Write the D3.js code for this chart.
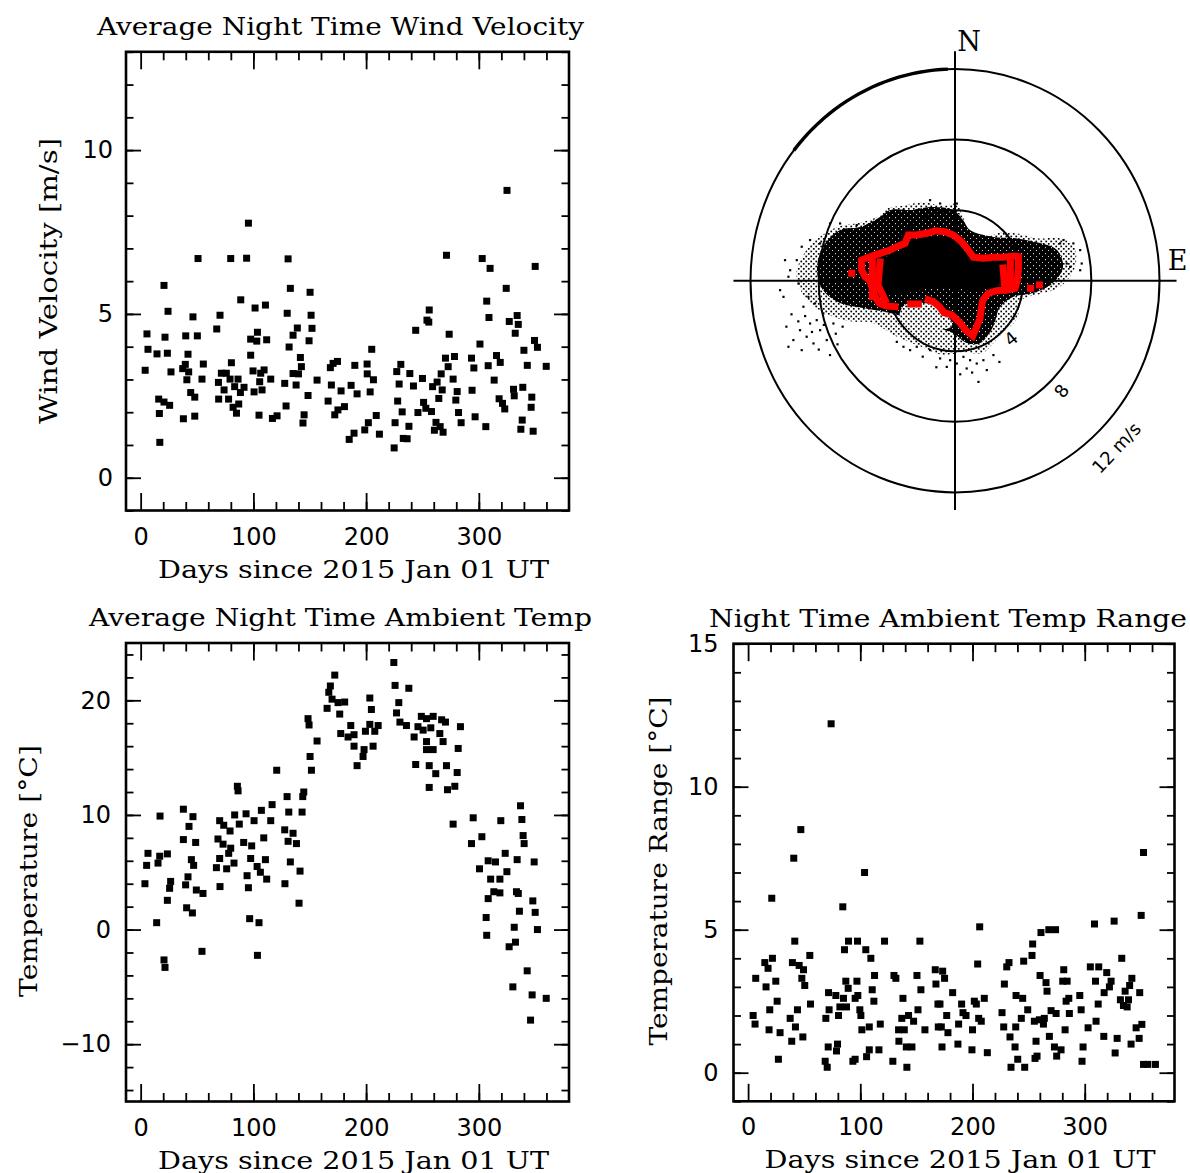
<!DOCTYPE html>
<html lang="en">
<head>
<meta charset="UTF-8">
<title>Night time weather 2015</title>
<style>
  body { margin: 0; background: #fff; }
</style>
</head>
<body>
<script src="https://cdn.jsdelivr.net/npm/d3@7/dist/d3.min.js"></script>
<script>
// ---- data ----
var dayMajor = [0, 100, 200, 300];
var dayMinor = d3.range(20, 380, 20);

// [day, wind speed m/s]
var windPoints = [[4,3.28],[5.6,4.39],[6.5,3.92],[14.5,3.78],[16,2.40],[20.7,2.31],[25.7,2.21],[16.6,1.96],[17,1.08],[20.7,5.87],[21.6,4.29],[23.7,3.80],[24.3,5.08],[26.9,3.23],[37.9,1.80],[37.3,3.33],[39.6,3.46],[42,3.77],[40,4.33],[41,2.99],[42.6,3.23],[44.4,2.60],[46.4,4.91],[48,2.46],[48,1.88],[50.3,4.33],[50.9,6.69],[54.4,3.01],[55.6,3.47],[67.5,4.54],[70.4,4.96],[69.2,2.40],[69,2.91],[71.6,3.19],[74,2.68],[76,3.19],[78,2.40],[79.9,6.69],[80.5,3.51],[79.3,3.01],[82,2.15],[83.4,2.78],[85,1.97],[86.4,3.01],[87,2.25],[88.5,2.60],[88.8,5.43],[91.7,2.76],[94,6.70],[95.6,7.77],[97.6,3.74],[97.6,4.23],[99.7,3.26],[100.6,2.62],[101.5,5.18],[103.6,4.44],[103,4.17],[105,1.91],[105.6,2.93],[106.5,3.19],[107.7,2.68],[109.5,3.29],[110.7,5.27],[111.8,4.21],[115.4,3.01],[116.9,1.81],[121,1.89],[127.8,2.88],[129,2.19],[130,5.02],[130.8,6.68],[131.7,3.99],[132.8,5.78],[135.2,4.35],[135.2,3.18],[137.9,2.83],[139,4.57],[140,3.17],[141.7,3.67],[142.6,3.39],[144,1.67],[145,1.92],[148.5,2.51],[149.4,4.18],[150.3,5.66],[151.2,4.96],[152,4.56],[156.5,2.98],[166.3,2.34],[168.3,3.36],[169.2,2.83],[170.7,3.49],[172.2,1.92],[174.6,3.55],[175,2.07],[177.8,2.65],[180.8,2.17],[185,1.17],[186.7,2.82],[189.3,1.36],[190,3.43],[192,2.56],[198.8,1.46],[200.9,3.47],[201,3.17],[202,1.68],[203.6,2.62],[205,3.92],[206.5,2.99],[209,1.90],[211.8,1.33],[224.9,0.91],[225.7,1.68],[227.2,3.24],[228,2.34],[229.3,2.86],[230.8,3.46],[232,2.01],[233,1.20],[236.4,1.19],[238,1.57],[238.8,3.18],[242,2.80],[244,4.50],[246,1.99],[250,3.03],[251,2.30],[253,2.12],[254,4.81],[256,5.12],[255.6,4.75],[258,2.02],[259,2.78],[260.6,1.45],[262,1.69],[263,2.92],[264.5,2.42],[265.7,1.56],[266.6,3.17],[267.5,2.68],[268.3,1.39],[270.4,3.65],[271.3,6.79],[272.8,3.39],[273.7,4.38],[277.2,3.01],[278.4,3.70],[279.6,2.37],[280.8,2.63],[282,1.99],[284.3,1.68],[293.5,3.65],[294,2.67],[295.6,3.35],[296.7,1.86],[301,4.08],[303,6.69],[306.2,1.56],[307,5.39],[308.3,3.42],[309,4.89],[310,6.39],[313.6,2.98],[315.7,3.73],[318,2.41],[319,3.52],[321,2.27],[323,2.10],[324.3,5.78],[325,8.77],[327,4.77],[330.8,2.70],[331.4,2.50],[332.3,4.41],[334,4.95],[335,4.68],[337.3,1.48],[338.5,1.76],[339,2.76],[340,3.89],[343,3.43],[346.4,2.15],[347,2.46],[348.2,1.42],[349.4,4.19],[350,6.45],[352,3.98],[359.8,3.40]];

// [day, mean ambient temp C]
var tempPoints = [[224.6,23.3],[225.7,21.3],[237.9,21.05],[229,19.8],[227,18.9],[230,18.1],[235.8,17.8],[249,18.6],[253.6,18.4],[259.5,18.6],[267,18.3],[270.4,18.1],[246,17.7],[250.6,17.4],[257.4,17.6],[265.4,17.1],[242.6,16.8],[253.6,16.4],[268.3,16.4],[253.6,15.7],[259.5,15.7],[283.7,17.7],[281.7,15.8],[244,14.4],[256,14.3],[261.8,13.6],[271.3,14.3],[280.8,13.7],[256,12.4],[272.2,12.2],[278.7,12.5],
[172.2,22.2],[168.3,21.25],[166.9,20.7],[169.8,20.1],[175.1,19.8],[181,19.85],[165.4,19.3],[176.6,18.8],[203.3,20.2],[204.7,19.2],[186.4,17.8],[203.3,17.9],[210.7,17.8],[199.4,17.3],[207.7,17.3],[177.5,17.1],[184,16.8],[189.3,17.0],[189.3,16.0],[206.2,16.0],[198.2,15.7],[197.3,15.1],[192,14.3],
[148.5,18.4],[149.4,17.85],[156.5,16.45],[150.3,15.1],[151.5,13.9],[120.7,13.9],[144.7,12.0],[143.8,11.6],[129.9,11.6],[143.2,10.25],[85.8,12.5],[86.4,12.1],[116.6,10.9],[131.4,10.25],[107.1,10.4],[93.5,10.1],[83.4,10.0],[100.6,9.5],[115.4,9.5],[87.5,9.2],[17.2,9.9],[37.9,10.5],[46.4,9.85],[42.9,9.0],[70.1,9.5],[73.7,9.1],[79.3,8.6],[127.8,8.7],[135.2,8.4],[138.2,7.5],[130.8,7.7],[109.2,8.0],[91.4,7.6],[98.5,7.3],[37.9,7.85],[48.8,7.6],[68.6,7.9],[73.1,7.45],[79.9,7.1],[78.1,6.65],[6.5,6.65],[16.9,6.4],[23.7,6.6],[5.3,5.6],[15.4,5.8],[45,6.1],[47,5.6],[70.1,6.2],[82.8,5.8],[76.3,5.3],[67.2,5.4],[97.6,6.2],[110.7,6.1],[103.3,5.5],[106.2,5.0],[94.4,4.7],[111.8,4.4],[132.8,5.9],[141.4,5.1],[3.8,4.0],[26.6,4.2],[25.7,3.6],[42,4.6],[39.9,3.9],[49.4,3.45],[55.3,3.15],[70.4,3.75],[95.6,3.65],[128,4.0],[23.7,2.55],[40.8,1.9],[45.9,1.45],[14.2,0.6],[140.5,2.3],[96.7,0.95],[105,0.6],[54.4,-1.9],[20.7,-2.65],[21.6,-3.3],[103.6,-2.25],
[295,9.75],[319.5,9.5],[337,10.8],[338.2,9.6],[339.3,8.2],[340.2,7.5],[277.2,9.2],[302.7,8.1],[293.5,7.5],[323.4,6.65],[334,6.1],[349.1,5.9],[308.3,6.0],[314.8,5.9],[300.6,5.3],[324.9,5.05],[310.5,4.4],[318.7,4.4],[313.3,3.3],[318.7,3.2],[333.4,3.3],[335,3.15],[308.3,2.7],[347.9,2.5],[336,1.6],[350,1.5],[306.5,1.05],[331.4,0.2],[352,0.0],[307,-0.5],[332.5,-1.1],[326.9,-1.5],[342.9,-3.6],[330.2,-5.0],[347.3,-5.7],[359.8,-6.0],[345.9,-7.9]];

// [day, night temp range C]
var rangePoints = [[74,12.2],[47,8.5],[40.7,7.5],[103.8,7.0],[21.1,6.1],[84.4,5.8],[352.4,7.7],[350.3,5.5],[206.4,5.1],[308.7,5.2],[326.2,5.3],[261,4.9],[268,5.0],[274,5.0],[253.6,4.5],[253,4.1],[245.6,3.9],[333,4.0],[41.6,4.6],[89.5,4.6],[97.5,4.6],[121.6,4.6],[153.1,4.6],[85.9,4.3],[104.9,4.3],[109.4,4.0],[55,4.1],[21.7,4.0],[14.9,3.85],[17.8,3.65],[39.5,3.85],[45.5,3.75],[49.4,3.6],[47.9,3.3],[50.5,3.05],[6.8,3.3],[24.7,3.2],[16,3.0],[204.6,3.8],[230.5,3.7],[232.5,3.85],[281.3,3.6],[305,3.7],[312.5,3.7],[319.6,3.5],[323.5,3.2],[322,3.0],[342,3.3],[340,3.05],[336,2.85],[317.3,2.8],[349,2.8],[260.2,3.4],[265.5,3.15],[266.4,2.85],[284.3,3.2],[280.4,3.2],[309.6,3.2],[295.6,2.7],[283.4,2.5],[285.8,2.6],[312,2.4],[331.8,2.55],[334.5,2.35],[339,2.55],[337.8,2.3],[87.1,3.2],[97,3.2],[89.2,2.95],[112.7,3.4],[130,3.4],[131.7,3.3],[150.5,3.4],[166.8,3.6],[173.4,3.55],[175.1,3.3],[167.4,3.1],[110.6,2.9],[154,2.9],[182.3,2.8],[228.4,3.1],[71.7,2.8],[78.2,2.7],[85,2.6],[97.8,2.7],[95.4,2.6],[25.9,2.5],[55.6,2.4],[19.3,2.2],[44,2.2],[72.2,2.2],[81.8,2.3],[87.7,2.3],[80.6,2.0],[112.1,2.5],[138,2.6],[99.6,2.2],[100.5,2.0],[69.3,1.9],[4.5,2.0],[6.2,1.7],[37.5,1.9],[42.2,1.6],[18.7,1.5],[28.5,1.4],[38.9,1.1],[48.8,1.25],[27,0.47],[71.4,0.9],[79.7,1.0],[78.8,0.76],[68.7,0.4],[70.5,0.19],[93.4,0.4],[95.4,0.47],[101.4,1.5],[108,1.6],[117.8,1.7],[105.6,0.56],[108,0.8],[116.6,0.8],[129,0.4],[134.4,1.1],[134.1,1.5],[139.2,1.5],[137,1.9],[143,2.0],[147.5,1.8],[151.4,2.2],[141,0.9],[146,0.9],[141.5,0.19],[157.6,1.5],[169.2,2.4],[171,2.4],[169.5,1.6],[172.2,1.6],[178.1,1.4],[177,2.0],[172.8,0.9],[187,1.0],[187.6,1.7],[190.3,2.4],[191.5,2.1],[194.2,2.0],[199.5,0.8],[200,1.5],[201.6,2.5],[203.4,2.4],[210.5,2.6],[205.5,1.9],[207.8,1.8],[213.2,0.7],[226.3,2.1],[227.8,1.6],[233.4,1.25],[237.9,0.9],[238.5,1.6],[240.3,0.47],[234.3,0.19],[246.5,0.19],[243.5,1.9],[249.2,2.2],[238.8,2.7],[244.7,2.6],[255.1,1.8],[259.6,1.85],[263.2,1.7],[264,1.9],[256.6,1.1],[255.7,0.5],[257.5,0.58],[268.5,1.27],[270,2.17],[274.5,2.07],[273,0.9],[278.9,0.8],[275,0.58],[282.5,1.5],[286.3,2.07],[296.8,2.2],[298.5,0.9],[297.6,0.4],[303,1.57],[310.1,1.8],[317,1.27],[327.1,0.69],[328.9,1.2],[341.3,1.0],[345.8,1.57],[350.9,1.69],[348.5,1.2],[356.2,0.29],[363,0.29],[352.4,0.29]];

// wind rose, [east, north] in m/s
var ringRadii = [4, 8, 12];
var ringLabels = [["4", 4.66, -40], ["8", 8.84, -55], ["12 m/s", 13.4, -47]];
var cloudOuter = [[-9.3,0.40],[-8.6,1.90],[-7.75,2.60],[-6.75,3.10],[-5.75,3.25],[-4.40,3.70],[-3.99,4.10],[-3.05,4.25],[-1.88,4.45],[-0.70,4.25],[0.12,4.35],[0.47,3.61],[0.76,2.95],[1.64,2.50],[2.82,2.75],[3.81,2.65],[4.81,2.40],[6.16,2.40],[6.95,2.00],[7.10,1.00],[6.80,0.30],[5.99,-0.45],[4.99,-0.75],[3.90,-1.10],[3.64,-2.16],[2.90,-2.90],[2.10,-3.70],[1.64,-4.10],[0.47,-4.05],[-0.70,-4.20],[-2.23,-3.65],[-3.64,-3.06],[-4.81,-2.40],[-6.16,-2.30],[-7.51,-1.90],[-8.70,-1.10]];
var cloudDense = [[-7.75,1.91],[-6.75,2.87],[-5.58,3.04],[-4.40,3.61],[-3.81,4.01],[-2.46,4.01],[-1.47,4.18],[-0.12,4.01],[0.47,3.44],[0.88,2.87],[2.23,2.48],[3.40,2.42],[4.99,2.14],[5.99,1.74],[6.34,0.78],[5.75,-0.13],[4.58,-0.70],[3.40,-0.92],[2.64,-1.49],[2.23,-2.62],[1.47,-3.53],[0.70,-3.53],[-0.12,-2.96],[-1.29,-2.62],[-2.46,-2.23],[-3.81,-1.83],[-5.40,-1.55],[-6.75,-1.27],[-7.75,-0.53],[-8.10,0.61]];
var cloudCore = [[-4.99,0.89],[-3.81,1.46],[-2.93,1.85],[-2.35,2.31],[-0.59,2.48],[0.29,2.02],[0.88,1.29],[3.23,1.06],[3.52,0.61],[3.35,-0.24],[2.05,-0.41],[1.17,-0.64],[0.29,-0.41],[-0.88,-0.36],[-2.05,-0.53],[-3.52,-0.81],[-4.52,-0.53]];
var cloudGap = [[-2.93,-1.37],[-1.47,-1.32],[-0.41,-2.00],[-0.18,-2.57],[-1.17,-2.79],[-2.35,-2.51],[-3.23,-2.00]];
var windStrays = [[-10.27,-0.53],[-10.07,-0.91],[-9.78,0.23],[-9.68,0.60],[-9.29,1.17],[-9.49,-3.36],[-9.78,-3.74],[-9.10,-2.80],[-9.00,-3.93],[-8.71,-3.17],[-8.51,-2.42],[-8.31,-3.55],[-8.12,-2.23],[-7.92,-2.80],[-7.53,-3.36],[-7.34,-4.21],[-7.14,-2.42],[-8.90,-1.47],[-8.61,-0.91],[-8.22,-1.28],[-7.73,-1.85],[-9.19,-0.15],[-9.98,1.17],[-9.00,1.93],[-8.51,2.31],[-7.92,2.12],[-7.34,3.25],[-6.75,3.25],[-6.36,2.87],[-5.77,3.16],[-0.49,-4.88],[-0.29,-4.50],[0.10,-4.69],[0.68,-4.97],[0.88,-4.50],[1.37,-5.73],[1.66,-4.50],[1.86,-5.06],[2.25,-4.21],[0.49,-4.31],[1.27,-4.69],[-0.88,-4.40],[-1.47,-3.93],[-2.25,-3.74],[-3.03,-3.74],[-2.64,-3.93],[-3.42,-3.46],[6.94,2.12],[7.34,1.74],[7.43,0.98],[7.34,0.60],[6.36,2.31],[6.55,0.98],[6.75,0.79],[6.16,2.12],[-1.47,4.57],[-0.88,4.38],[0.10,4.38],[-2.25,4.01],[-3.03,4.01],[-3.81,3.82],[-4.21,3.63],[-9.6,-1.9],[-9.2,-2.3],[-8.8,-2.0],[-8.4,-2.9],[-7.7,-2.5],[-7.0,-3.0],[-6.6,-2.6],[-9.9,-2.6],[-8.0,-3.9],[-6.9,-3.6],[-1.9,-4.3],[-1.1,-4.9],[0.3,-5.3],[1.0,-5.2],[2.6,-4.6]];
var redContour = [
  [[-3.52,-1.47],[-4.01,-1.43],[-4.44,-1.28],[-4.69,-0.91],[-4.83,-0.43],[-5.03,0.04],[-5.28,0.23],[-5.48,0.61],[-5.48,1.17],[-4.99,1.36],[-4.40,1.55],[-3.81,1.74],[-3.42,1.93],[-2.93,2.12],[-2.74,2.59],[-2.25,2.59],[-1.66,2.69],[-1.17,2.83],[-0.59,2.78],[-0.10,2.59],[0.39,2.21],[0.78,1.74],[1.07,1.33],[1.66,1.27],[2.25,1.33],[2.83,1.33],[3.42,1.40],[3.72,1.36],[3.72,0.70],[3.66,0.04],[3.52,-0.43],[3.03,-0.53],[2.45,-0.57],[1.95,-0.71],[1.63,-1.09],[1.53,-1.66],[1.47,-2.13],[1.23,-2.70],[1.04,-3.13],[0.60,-2.79],[0.29,-2.38],[-0.19,-1.94],[-0.65,-1.81],[-0.92,-1.47],[-1.27,-1.19],[-1.57,-1.09]],
  [[-2.15,-1.32],[-2.60,-1.32]],
  [[2.82,0.72],[2.93,-0.53]],
  [[3.25,1.0],[3.25,-0.45]],
  [[-4.40,1.06],[-4.52,-0.24],[-4.11,-1.09]],
  [[-4.85,1.25],[-4.85,-0.9]]
];
var redSingles = [[-6.06,0.42],[4.44,-0.43],[4.95,-0.24]];

// ---- drawing ----
var SERIF = "'DejaVu Serif', serif";
var SANS = "'DejaVu Sans', sans-serif";

var svg = d3.select("body").append("svg")
  .attr("width", 1190).attr("height", 1173)
  .style("display", "block");

svg.append("rect").attr("width", 1190).attr("height", 1173).attr("fill", "#fff");

function styleAxis(sel, fs) {
  sel.select(".domain").remove();
  sel.selectAll(".tick line").attr("stroke", "#000").attr("stroke-width", 1.8);
  sel.attr("font-family", SANS).attr("font-size", fs);
  sel.selectAll(".tick text").attr("fill", "#000");
}

function label(g, txt, len) {
  return g.append("text").text(txt)
    .attr("text-anchor", "middle")
    .attr("font-family", SERIF).attr("font-size", 24)
    .attr("textLength", len).attr("lengthAdjust", "spacingAndGlyphs");
}

function drawPanel(p) {
  var g = svg.append("g");
  var x = d3.scaleLinear().domain([-13, 380]).range(p.xr);
  var y = d3.scaleLinear().domain(p.yd).range(p.yr);
  var top = p.yr[1], bottom = p.yr[0], left = p.xr[0], right = p.xr[1];

  // minor ticks, all four sides
  g.append("g").attr("transform", "translate(0," + bottom + ")")
    .call(d3.axisBottom(x).tickValues(dayMinor).tickSize(-8.5).tickFormat(""))
    .call(styleAxis, 24);
  g.append("g").attr("transform", "translate(0," + top + ")")
    .call(d3.axisTop(x).tickValues(dayMinor).tickSize(-8.5).tickFormat(""))
    .call(styleAxis, 24);
  g.append("g").attr("transform", "translate(" + left + ",0)")
    .call(d3.axisLeft(y).tickValues(p.yMinor).tickSize(-7.5).tickFormat(""))
    .call(styleAxis, 24);
  g.append("g").attr("transform", "translate(" + right + ",0)")
    .call(d3.axisRight(y).tickValues(p.yMinor).tickSize(-7.5).tickFormat(""))
    .call(styleAxis, 24);

  // major ticks
  g.append("g").attr("transform", "translate(0," + bottom + ")")
    .call(d3.axisBottom(x).tickValues(dayMajor).tickSize(-17.5).tickPadding(17).tickFormat(d3.format("d")))
    .call(styleAxis, 24);
  g.append("g").attr("transform", "translate(0," + top + ")")
    .call(d3.axisTop(x).tickValues(dayMajor).tickSize(-17.5).tickFormat(""))
    .call(styleAxis, 24);
  g.append("g").attr("transform", "translate(" + left + ",0)")
    .call(d3.axisLeft(y).tickValues(p.yMajor).tickSize(-15).tickPadding(p.ypad).tickFormat(d3.format("d")))
    .call(styleAxis, 24);
  g.append("g").attr("transform", "translate(" + right + ",0)")
    .call(d3.axisRight(y).tickValues(p.yMajor).tickSize(-15).tickFormat(""))
    .call(styleAxis, 24);

  g.append("rect")
    .attr("x", left).attr("y", top)
    .attr("width", right - left).attr("height", bottom - top)
    .attr("fill", "none").attr("stroke", "#000").attr("stroke-width", 2.6);

  var s = 7;
  g.append("g").selectAll("rect")
    .data(p.data)
    .enter().append("rect")
    .attr("x", function(d) { return x(d[0]) - s / 2; })
    .attr("y", function(d) { return y(d[1]) - s / 2; })
    .attr("width", s).attr("height", s)
    .attr("fill", "#000");

  label(g, p.title, p.titleLen)
    .attr("x", p.titleX).attr("y", top - 17);

  label(g, "Days since 2015 Jan 01 UT", 391)
    .attr("x", (left + right) / 2 + 6).attr("y", bottom + 67);

  label(g, p.ylabel, p.ylabLen)
    .attr("transform", "translate(" + p.ylabX + "," + p.ylabY + ") rotate(-90)");
}

drawPanel({
  data: windPoints, xr: [126, 569], yr: [510.5, 51.8], yd: [-1, 13],
  yMajor: [0, 5, 10], yMinor: d3.range(-1, 14, 1), ypad: 13,
  title: "Average Night Time Wind Velocity", titleX: 340.5, titleLen: 487,
  ylabel: "Wind Velocity [m/s]", ylabX: 57, ylabY: 281, ylabLen: 286
});
drawPanel({
  data: tempPoints, xr: [126, 569], yr: [1101.5, 643], yd: [-15, 25],
  yMajor: [-10, 0, 10, 20], yMinor: d3.range(-14, 25, 2), ypad: 15,
  title: "Average Night Time Ambient Temp", titleX: 340.5, titleLen: 503,
  ylabel: "Temperature [\u00b0C]", ylabX: 37, ylabY: 871, ylabLen: 252
});
drawPanel({
  data: rangePoints, xr: [733.5, 1174.5], yr: [1101.3, 643.7], yd: [-1, 15],
  yMajor: [0, 5, 10, 15], yMinor: d3.range(-1, 16, 1), ypad: 15,
  title: "Night Time Ambient Temp Range", titleX: 948, titleLen: 478,
  ylabel: "Temperature Range [\u00b0C]", ylabX: 667, ylabY: 871, ylabLen: 349
});

// ---- wind rose ----
var xe = d3.scaleLinear().domain([-12, 12]).range([750.5, 1159.5]);
var yn = d3.scaleLinear().domain([-12, 12]).range([492.4, 69]);
var rose = svg.append("g");

var defs = svg.append("defs");
var sparse = defs.append("pattern").attr("id", "sparse")
  .attr("patternUnits", "userSpaceOnUse").attr("width", 5).attr("height", 5);
sparse.append("rect").attr("x", 0.4).attr("y", 0.6).attr("width", 1.7).attr("height", 1.7).attr("fill", "#000");
sparse.append("rect").attr("x", 2.9).attr("y", 3.0).attr("width", 1.7).attr("height", 1.7).attr("fill", "#000");
var dense = defs.append("pattern").attr("id", "dense")
  .attr("patternUnits", "userSpaceOnUse").attr("width", 6).attr("height", 6);
dense.append("rect").attr("width", 6).attr("height", 6).attr("fill", "#000");
dense.append("rect").attr("x", 1).attr("y", 1.2).attr("width", 1).attr("height", 1).attr("fill", "#fff");
dense.append("rect").attr("x", 4).attr("y", 4.1).attr("width", 0.9).attr("height", 0.9).attr("fill", "#fff");

var shape = d3.line()
  .x(function(d) { return xe(d[0]); })
  .y(function(d) { return yn(d[1]); })
  .curve(d3.curveCatmullRomClosed);

rose.append("path").attr("d", shape(cloudOuter)).attr("fill", "url(#sparse)");
rose.append("path").attr("d", shape(cloudDense)).attr("fill", "url(#dense)");
rose.append("path").attr("d", shape(cloudGap)).attr("fill", "#fff");
rose.append("path").attr("d", shape(cloudGap)).attr("fill", "url(#sparse)");
rose.append("path").attr("d", shape(cloudCore)).attr("fill", "#000");

rose.append("g").selectAll("rect")
  .data(windStrays)
  .enter().append("rect")
  .attr("x", function(d) { return xe(d[0]) - 1; })
  .attr("y", function(d) { return yn(d[1]) - 1; })
  .attr("width", 2.2).attr("height", 2.2).attr("fill", "#000");

rose.append("g").selectAll("ellipse")
  .data(ringRadii)
  .enter().append("ellipse")
  .attr("cx", xe(0)).attr("cy", yn(0))
  .attr("rx", function(r) { return xe(r) - xe(0); })
  .attr("ry", function(r) { return yn(0) - yn(r); })
  .attr("fill", "none").attr("stroke", "#000").attr("stroke-width", 2);

// slightly heavier stroke on the upper-left part of the outer ring
var arcLine = d3.line()
  .x(function(a) { return xe(12 * Math.cos(a * Math.PI / 180)); })
  .y(function(a) { return yn(12 * Math.sin(a * Math.PI / 180)); });
rose.append("path").attr("d", arcLine(d3.range(92, 143, 2)))
  .attr("fill", "none").attr("stroke", "#000").attr("stroke-width", 3.4);

rose.append("line")
  .attr("x1", xe(-13)).attr("x2", xe(13)).attr("y1", yn(0)).attr("y2", yn(0))
  .attr("stroke", "#000").attr("stroke-width", 2);
rose.append("line")
  .attr("x1", xe(0)).attr("x2", xe(0)).attr("y1", yn(13)).attr("y2", yn(-13))
  .attr("stroke", "#000").attr("stroke-width", 2);

var redLine = d3.line()
  .x(function(d) { return xe(d[0]); })
  .y(function(d) { return yn(d[1]); });
rose.append("g").selectAll("path")
  .data(redContour)
  .enter().append("path")
  .attr("d", redLine)
  .attr("fill", "none").attr("stroke", "#ff0000").attr("stroke-width", 7)
  .attr("stroke-linejoin", "miter").attr("stroke-miterlimit", 2)
  .attr("stroke-linecap", "square");
rose.append("g").selectAll("rect")
  .data(redSingles)
  .enter().append("rect")
  .attr("x", function(d) { return xe(d[0]) - 3.5; })
  .attr("y", function(d) { return yn(d[1]) - 3.5; })
  .attr("width", 7).attr("height", 7).attr("fill", "#ff0000");

rose.append("text").text("N")
  .attr("x", xe(0) + 14).attr("y", yn(13) + 0)
  .attr("text-anchor", "middle")
  .attr("font-family", SERIF).attr("font-size", 27);
rose.append("text").text("E")
  .attr("x", xe(13) + 1).attr("y", yn(0) - 11)
  .attr("text-anchor", "middle")
  .attr("font-family", SERIF).attr("font-size", 27);

rose.append("g").selectAll("text")
  .data(ringLabels)
  .enter().append("text")
  .text(function(d) { return d[0]; })
  .attr("transform", function(d) {
    var a = -45 * Math.PI / 180;
    return "translate(" + xe(d[1] * Math.cos(a)) + "," + yn(d[1] * Math.sin(a)) + ") rotate(" + d[2] + ")";
  })
  .attr("text-anchor", "middle").attr("dy", "0.35em")
  .attr("font-family", SANS).attr("font-size", 18);
</script>
</body>
</html>
